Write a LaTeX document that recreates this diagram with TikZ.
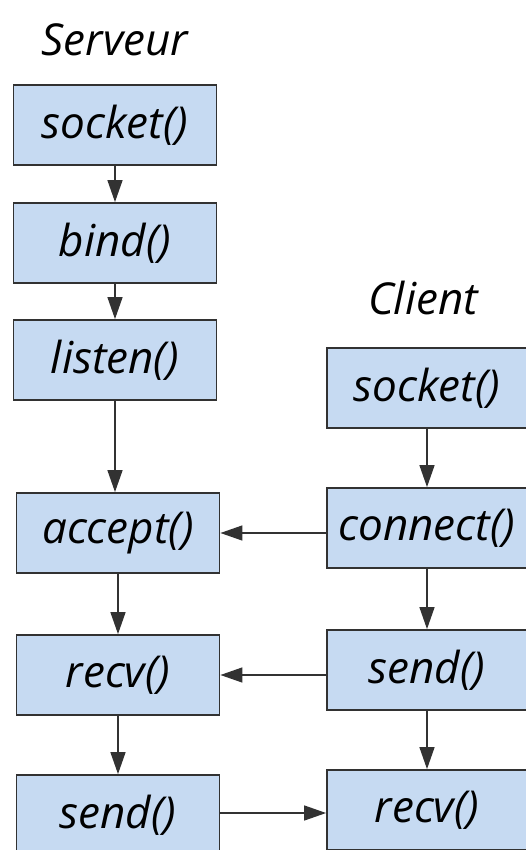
\documentclass[tikz,border=0pt]{standalone}
\usepackage{fontspec}
\setmainfont{Open Sans}
\usepackage{tikz}
\usetikzlibrary{arrows.meta,positioning}
\definecolor{boxblue}{RGB}{198,218,242}
\definecolor{boxline}{RGB}{50,50,50}

\begin{document}
\begin{tikzpicture}[x=1pt, y=-1pt,
    font=\fontsize{44}{48}\selectfont\itshape,
    call/.style={draw=boxline, fill=boxblue, line width=1.8pt, minimum width=203pt, minimum height=80pt, inner sep=0pt},
    flow/.style={-{Triangle[length=22pt,width=15pt]}, draw=boxline, line width=1.4pt}]
    \clip (0,0) rectangle (526,850);
    \useasboundingbox (0,0) rectangle (526,850);
    \node (stitle) at (115,40) {Serveur};
    \node (ctitle) at (423,298) {Client};
    \node[call] (ssocket) at (115,125) {socket()};
    \node[call] (sbind) at (115,243) {bind()};
    \node[call] (slisten) at (115,360) {listen()};
    \node[call] (saccept) at (118,533) {accept()};
    \node[call] (srecv) at (118,675) {recv()};
    \node[call] (ssend) at (118,815) {send()};
    \node[call, minimum width=200pt] (csocket) at (427,388) {socket()};
    \node[call, minimum width=200pt] (cconnect) at (427,528) {connect()};
    \node[call, minimum width=200pt] (csend) at (427,670) {send()};
    \node[call, minimum width=200pt] (crecv) at (427,810) {recv()};
    \draw[flow] (ssocket) -- (sbind);
    \draw[flow] (sbind) -- (slisten);
    \draw[flow] (slisten.south) -- (slisten.south |- saccept.north);
    \draw[flow] (saccept.south) -- (saccept.south |- srecv.north);
    \draw[flow] (srecv.south) -- (srecv.south |- ssend.north);
    \draw[flow] (csocket) -- (cconnect);
    \draw[flow] (cconnect) -- (csend);
    \draw[flow] (csend) -- (crecv);
    \draw[flow] (cconnect.west |- saccept.east) -- (saccept.east);
    \draw[flow] (csend.west |- srecv.east) -- (srecv.east);
    \draw[flow] ([yshift=2pt]ssend.east) -- ([yshift=2pt]ssend.east -| crecv.west);
\end{tikzpicture}
\end{document}
